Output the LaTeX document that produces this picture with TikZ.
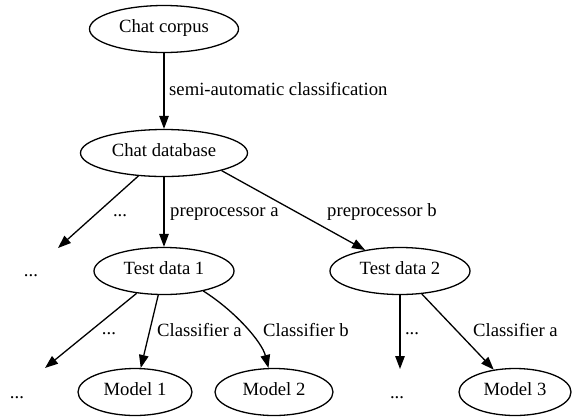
\documentclass[tikz,border=0pt]{standalone}
\usepackage{fontspec}
\setmainfont{Liberation Serif}
\usetikzlibrary{arrows.meta,shapes.geometric}
\begin{document}
\begin{tikzpicture}[x=1pt,y=-1pt,
  font=\fontsize{18.67}{22}\selectfont,
  box/.style={ellipse,draw,line width=1.3pt,inner sep=0pt,minimum height=47pt,text height=0.8em,text depth=0.16em},
  lbl/.style={inner sep=0pt,anchor=base west},
  dots/.style={inner sep=0pt,anchor=base},
  arr/.style={line width=1.3pt,-{Triangle[length=13pt,width=9.5pt]}}]
\useasboundingbox (0,0) rectangle (573,416);
% main nodes
\node[box,minimum width=149pt] (cc) at (164,29) {Chat corpus};
\node[box,minimum width=167pt] (cdb) at (164,153) {Chat database};
\node[box,minimum width=140pt] (td1) at (164,271) {Test data 1};
\node[box,minimum width=140pt] (td2) at (400,271) {Test data 2};
\node[box,minimum width=114pt] (m1) at (135,392) {Model 1};
\node[box,minimum width=118pt] (m2) at (274,392) {Model 2};
\node[box,minimum width=112pt] (m3) at (515,392) {Model 3};
% invisible "..." nodes
\node[dots] (d1) at (31,276) {...};
\node[dots] (d2) at (17,398) {...};
\node[dots] (d3) at (397,398) {...};
\coordinate (e1) at (58,248);
\coordinate (e2) at (45,368);
\coordinate (e3) at (400,369);
% edge labels
\node[lbl] (l1) at (169,95) {semi-automatic classification};
\node[dots] (l2) at (120,216) {...};
\node[lbl] (l3) at (170,216) {preprocessor a};
\node[lbl] (l4) at (327,216) {preprocessor b};
\node[dots] (l5) at (109,334) {...};
\node[lbl] (l6) at (157,336) {Classifier a};
\node[lbl] (l7) at (263,336) {Classifier b};
\node[dots] (l8) at (412,334) {...};
\node[lbl] (l9) at (473,336) {Classifier a};
% edges
\draw[arr] (cc) -- (cdb);
\draw[arr] (cdb) -- (e1);
\draw[arr] (cdb) -- (td1);
\draw[arr] (cdb.-17.5) -- (td2.149);
\draw[arr] (td1) -- (e2);
\draw[arr] (td1) -- (m1);
\draw[arr] (td1.-27) .. controls (235,311) and (262,342) .. (m2.103);
\draw[arr] (td2) -- (e3);
\draw[arr] (td2) -- (m3);
\end{tikzpicture}
\end{document}
